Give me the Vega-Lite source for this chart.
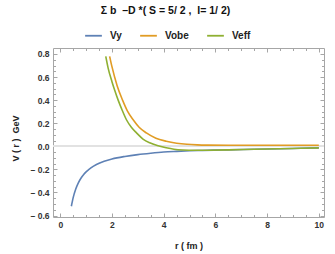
{
  "$schema": "https://vega.github.io/schema/vega-lite/v6.json",
  "autosize": "none",
  "width": 271,
  "height": 169,
  "padding": {"left": 53, "top": 48, "right": 11, "bottom": 37},
  "background": "white",
  "config": {
    "view": {"stroke": "#a6a6a6", "strokeWidth": 1},
    "font": "Liberation Sans",
    "axis": {"domain": false, "grid": false, "tickColor": "#a6a6a6", "labelFont": "Liberation Sans", "labelFontWeight": "bold", "labelFontSize": 8.5, "labelColor": "#333", "titleFont": "Liberation Sans", "titleFontWeight": "bold", "titleFontSize": 9, "titleColor": "#222", "labelOverlap": false, "labelFlush": false}
  },
  "title": {"text": "Σ\u00a0b\u00a0\u00a0–D\u00a0*(\u00a0S\u00a0=\u00a05/\u00a02\u00a0,\u00a0\u00a0I=\u00a01/\u00a02)", "font": "Liberation Sans", "fontSize": 10.5, "fontWeight": "bold", "color": "#111", "anchor": "middle", "dx": -23, "offset": 10},
  "data": {"values": [
    {"r": 0.43, "V": -0.52, "s": "Vy"},
    {"r": 0.5, "V": -0.445, "s": "Vy"},
    {"r": 0.6, "V": -0.37, "s": "Vy"},
    {"r": 0.7, "V": -0.317, "s": "Vy"},
    {"r": 0.8, "V": -0.277, "s": "Vy"},
    {"r": 0.9, "V": -0.246, "s": "Vy"},
    {"r": 1.0, "V": -0.222, "s": "Vy"},
    {"r": 1.2, "V": -0.185, "s": "Vy"},
    {"r": 1.4, "V": -0.158, "s": "Vy"},
    {"r": 1.7, "V": -0.13, "s": "Vy"},
    {"r": 2.0, "V": -0.11, "s": "Vy"},
    {"r": 2.5, "V": -0.088, "s": "Vy"},
    {"r": 3.0, "V": -0.072, "s": "Vy"},
    {"r": 3.5, "V": -0.06, "s": "Vy"},
    {"r": 4.0, "V": -0.05, "s": "Vy"},
    {"r": 4.5, "V": -0.044, "s": "Vy"},
    {"r": 5.0, "V": -0.039, "s": "Vy"},
    {"r": 5.5, "V": -0.036, "s": "Vy"},
    {"r": 6.0, "V": -0.033, "s": "Vy"},
    {"r": 6.5, "V": -0.031, "s": "Vy"},
    {"r": 7.5, "V": -0.026, "s": "Vy"},
    {"r": 8.5, "V": -0.021, "s": "Vy"},
    {"r": 9.3, "V": -0.017, "s": "Vy"},
    {"r": 10.0, "V": -0.014, "s": "Vy"},
    {"r": 1.91, "V": 0.78, "s": "Vobe"},
    {"r": 2.0, "V": 0.69, "s": "Vobe"},
    {"r": 2.2, "V": 0.525, "s": "Vobe"},
    {"r": 2.41, "V": 0.4, "s": "Vobe"},
    {"r": 2.6, "V": 0.305, "s": "Vobe"},
    {"r": 2.82, "V": 0.23, "s": "Vobe"},
    {"r": 3.05, "V": 0.165, "s": "Vobe"},
    {"r": 3.33, "V": 0.116, "s": "Vobe"},
    {"r": 3.7, "V": 0.07, "s": "Vobe"},
    {"r": 4.1, "V": 0.044, "s": "Vobe"},
    {"r": 4.5, "V": 0.027, "s": "Vobe"},
    {"r": 4.9, "V": 0.017, "s": "Vobe"},
    {"r": 5.3, "V": 0.012, "s": "Vobe"},
    {"r": 5.7, "V": 0.01, "s": "Vobe"},
    {"r": 6.5, "V": 0.009, "s": "Vobe"},
    {"r": 7.5, "V": 0.009, "s": "Vobe"},
    {"r": 8.5, "V": 0.009, "s": "Vobe"},
    {"r": 10.0, "V": 0.009, "s": "Vobe"},
    {"r": 1.76, "V": 0.78, "s": "Veff"},
    {"r": 1.85, "V": 0.68, "s": "Veff"},
    {"r": 2.0, "V": 0.56, "s": "Veff"},
    {"r": 2.1, "V": 0.49, "s": "Veff"},
    {"r": 2.24, "V": 0.4, "s": "Veff"},
    {"r": 2.4, "V": 0.31, "s": "Veff"},
    {"r": 2.56, "V": 0.23, "s": "Veff"},
    {"r": 2.75, "V": 0.165, "s": "Veff"},
    {"r": 2.95, "V": 0.116, "s": "Veff"},
    {"r": 3.2, "V": 0.063, "s": "Veff"},
    {"r": 3.46, "V": 0.03, "s": "Veff"},
    {"r": 3.75, "V": 0.006, "s": "Veff"},
    {"r": 4.1, "V": -0.013, "s": "Veff"},
    {"r": 4.4, "V": -0.025, "s": "Veff"},
    {"r": 4.75, "V": -0.032, "s": "Veff"},
    {"r": 5.2, "V": -0.035, "s": "Veff"},
    {"r": 5.7, "V": -0.034, "s": "Veff"},
    {"r": 6.5, "V": -0.031, "s": "Veff"},
    {"r": 7.5, "V": -0.026, "s": "Veff"},
    {"r": 8.5, "V": -0.021, "s": "Veff"},
    {"r": 9.3, "V": -0.017, "s": "Veff"},
    {"r": 10.0, "V": -0.014, "s": "Veff"}
  ]},
  "layer": [
    {
      "mark": {"type": "rule", "color": "#e2e2e2", "strokeWidth": 1.5},
      "encoding": {
        "y": {"datum": 0, "type": "quantitative",
          "scale": {"domain": [-0.613, 0.852], "nice": false, "zero": false},
          "axis": {"orient": "left", "title": "V ( r ) \u00a0GeV",
            "values": [-0.6,-0.55,-0.5,-0.45,-0.4,-0.35,-0.3,-0.25,-0.2,-0.15,-0.1,-0.05,0,0.05,0.1,0.15,0.2,0.25,0.3,0.35,0.4,0.45,0.5,0.55,0.6,0.65,0.7,0.75,0.8],
            "tickSize": {"condition": {"test": "abs(datum.value*5 - round(datum.value*5)) < 0.001", "value": -4}, "value": -2.5},
            "labelPadding": 8,
            "labelExpr": "abs(datum.value*5 - round(datum.value*5)) < 0.001 ? (datum.value < -0.001 ? '– ' + format(-datum.value, '.1f') : format(abs(datum.value), '.1f')) : ''",
            "titleAngle": 270, "titleAlign": "center", "titleBaseline": "middle", "titleX": -37.5, "titleY": 90}
        }
      }
    },
    {
      "mark": {"type": "line", "strokeWidth": 1.6, "clip": true, "interpolate": "monotone"},
      "encoding": {
        "x": {"field": "r", "type": "quantitative",
          "scale": {"domain": [-0.28, 10.2], "nice": false, "zero": false},
          "axis": {"orient": "bottom", "title": "r ( fm )",
            "values": [0,0.5,1,1.5,2,2.5,3,3.5,4,4.5,5,5.5,6,6.5,7,7.5,8,8.5,9,9.5,10],
            "tickSize": {"condition": {"test": "datum.value % 2 === 0", "value": -4}, "value": -2.5},
            "labelPadding": 7,
            "labelExpr": "datum.value % 2 === 0 ? format(datum.value, 'd') : ''",
            "titleBaseline": "middle", "titleY": 28}
        },
        "y": {"field": "V", "type": "quantitative", "scale": {"domain": [-0.613, 0.852], "nice": false, "zero": false}, "axis": null},
        "color": {"field": "s", "type": "nominal",
          "scale": {"domain": ["Vy", "Vobe", "Veff"], "range": ["#5e81b5", "#e19c24", "#8fb032"]},
          "legend": {"title": null, "orient": "none", "direction": "horizontal", "legendX": 31, "legendY": -22,
            "symbolType": "stroke", "symbolStrokeWidth": 1.8, "symbolSize": 280, "labelFont": "Liberation Sans", "labelFontWeight": "bold", "labelFontSize": 10, "labelColor": "#222", "labelOffset": 7, "columnPadding": 14, "padding": 0}
        },
        "order": {"field": "r", "type": "quantitative"}
      }
    },
    {
      "mark": {"type": "point", "opacity": 0},
      "encoding": {
        "x": {"field": "r", "type": "quantitative",
          "scale": {"domain": [-0.28, 10.2], "nice": false, "zero": false},
          "axis": {"orient": "top", "title": null, "labels": false,
            "values": [0,0.5,1,1.5,2,2.5,3,3.5,4,4.5,5,5.5,6,6.5,7,7.5,8,8.5,9,9.5,10],
            "tickSize": {"condition": {"test": "datum.value % 2 === 0", "value": -4}, "value": -2.5}}
        },
        "y": {"field": "V", "type": "quantitative",
          "scale": {"domain": [-0.613, 0.852], "nice": false, "zero": false},
          "axis": {"orient": "right", "title": null, "labels": false,
            "values": [-0.6,-0.55,-0.5,-0.45,-0.4,-0.35,-0.3,-0.25,-0.2,-0.15,-0.1,-0.05,0,0.05,0.1,0.15,0.2,0.25,0.3,0.35,0.4,0.45,0.5,0.55,0.6,0.65,0.7,0.75,0.8],
            "tickSize": {"condition": {"test": "abs(datum.value*5 - round(datum.value*5)) < 0.001", "value": -4}, "value": -2.5}}
        }
      }
    }
  ],
  "resolve": {"axis": {"x": "independent", "y": "independent"}}
}
